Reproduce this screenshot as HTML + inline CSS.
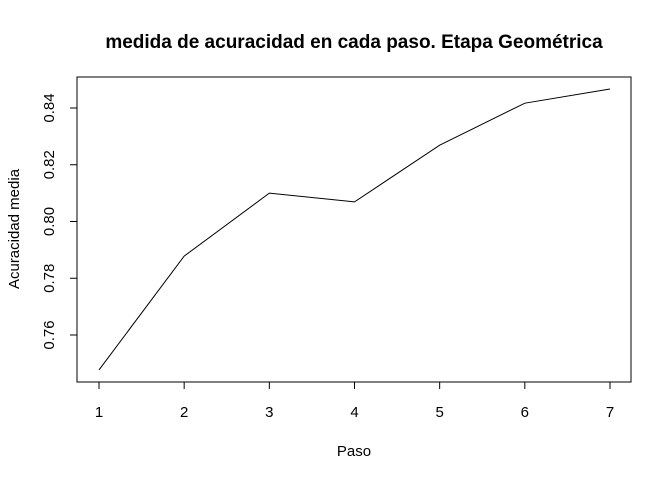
<!DOCTYPE html>
<html><head><meta charset="utf-8"><style>
body{margin:0;background:#fff;}
svg text{font-family:"Liberation Sans",Arial,sans-serif;fill:#000;}
</style></head><body>
<svg id="chart" width="672" height="480" xmlns="http://www.w3.org/2000/svg">
<text x="354" y="48" text-anchor="middle" font-size="19" font-weight="bold">medida de acuracidad en cada paso. Etapa Geométrica</text>
<rect x="77" y="77" width="554" height="305" fill="none" stroke="#000" stroke-width="1"/>
<g id="xaxis"></g>
<g id="yaxis"></g>
<g id="series"></g>
<text x="354" y="456" text-anchor="middle" font-size="15">Paso</text>
<text transform="translate(19,229) rotate(-90)" text-anchor="middle" font-size="15">Acuracidad media</text>
</svg>
<script>
const steps=[1,2,3,4,5,6,7];
const accuracy=[0.7477,0.7878,0.8100,0.8069,0.8269,0.8417,0.8467];
const yTicks=[0.76,0.78,0.80,0.82,0.84];
const yTickLabels=["0.76","0.78","0.80","0.82","0.84"];
const NS="http://www.w3.org/2000/svg";
function xs(v){return 99+(v-1)*(610-99)/6;}
function ys(v){return 335-(v-0.76)*(335-108)/0.08;}
function mk(tag,attrs,parent){const e=document.createElementNS(NS,tag);for(const k in attrs)e.setAttribute(k,attrs[k]);parent.appendChild(e);return e;}
const xa=document.getElementById('xaxis'),ya=document.getElementById('yaxis'),sg=document.getElementById('series');
mk('line',{x1:xs(steps[0]),x2:xs(steps[steps.length-1]),y1:382,y2:382,stroke:'#000'},xa);
steps.forEach(s=>{
 const t=mk('line',{x1:xs(s),x2:xs(s),y1:382,y2:389,stroke:'#000'},xa);
 
 
 const l=mk('text',{x:xs(s),y:417,'text-anchor':'middle','font-size':15},xa);
 l.textContent=s;
 
 
});
mk('line',{x1:77,x2:77,y1:ys(yTicks[0]),y2:ys(yTicks[yTicks.length-1]),stroke:'#000'},ya);
yTicks.forEach((v,i)=>{
 const t=mk('line',{x1:70,x2:77,y1:ys(v),y2:ys(v),stroke:'#000'},ya);
 
 
 const l=mk('text',{transform:`translate(54,${ys(v)}) rotate(-90)`,'text-anchor':'middle','font-size':15},ya);
 l.textContent=yTickLabels[i];
 
 
});
const p=mk('polyline',{points:steps.map((s,i)=>xs(s)+','+ys(accuracy[i])).join(' '),fill:'none',stroke:'#000','stroke-width':1},sg);


</script>
</body></html>
